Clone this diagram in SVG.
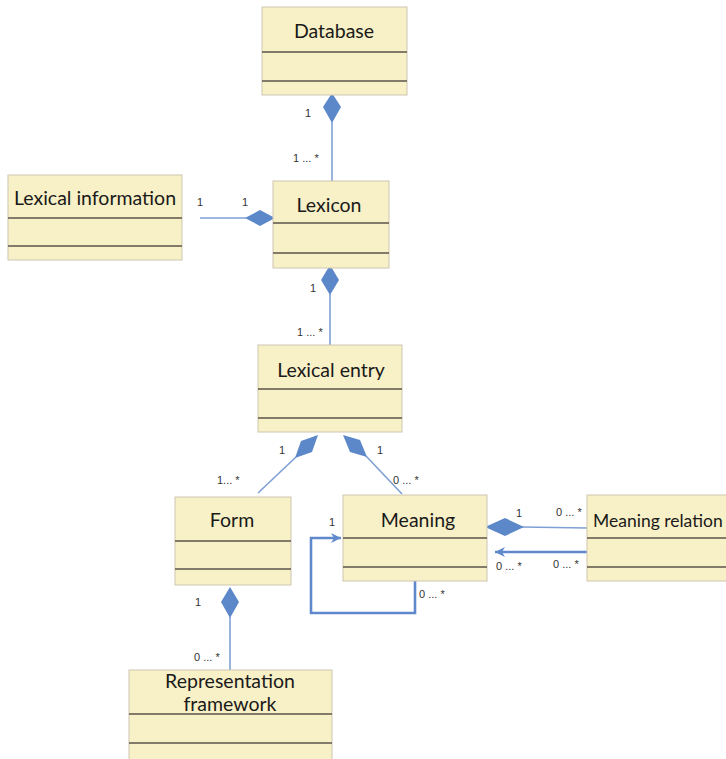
<svg xmlns="http://www.w3.org/2000/svg" width="726" height="759" viewBox="0 0 726 759">
  <style>
    .box { fill: #f8f0c6; stroke: #cdc6b2; stroke-width: 1; }
    .sep { stroke: #5c544a; stroke-width: 1.6; }
    .name { font-family: Lato, "Open Sans", sans-serif; font-size: 19.5px; fill: #1a1a1a; text-anchor: middle; }
    .mult { font-family: "Liberation Sans", sans-serif; font-size: 11px; fill: #333; }
    .link { stroke: #7ea0d4; stroke-width: 1.6; fill: none; }
    .nav { stroke: #5f89cc; stroke-width: 2.6; fill: none; }
    .dia { fill: #5c87c9; stroke: none; }
  </style>
  <defs>
    <marker id="open" markerWidth="12" markerHeight="12" refX="10" refY="6" orient="auto" markerUnits="userSpaceOnUse">
      <path d="M0,1 L10,6 L0,11 L3,6 Z" fill="#5f89cc"/>
    </marker>
  </defs>
  <rect width="726" height="759" fill="#ffffff"/>

  <!-- connectors -->
  <g id="connectors">
    <!-- Database <> Lexicon -->
    <line class="link" x1="332" y1="122" x2="332" y2="181"/>
    <path class="dia" d="M332,93 L341,107 L332,123 L323,107 Z"/>
    <!-- Lexicon <> Lexical information -->
    <line class="link" x1="200" y1="218" x2="246" y2="218"/>
    <path class="dia" d="M245,218 L260,210 L275,218 L260,226 Z"/>
    <!-- Lexicon <> Lexical entry -->
    <line class="link" x1="330" y1="294" x2="330" y2="345"/>
    <path class="dia" d="M330,265 L339,280 L330,295 L321,280 Z"/>
    <!-- Lexical entry <> Form -->
    <line class="link" x1="296" y1="457" x2="258" y2="493"/>
    <path class="dia" d="M318,435 L312,452 L295,458 L301,441 Z"/>
    <!-- Lexical entry <> Meaning -->
    <line class="link" x1="366" y1="456" x2="402" y2="494"/>
    <path class="dia" d="M343,435 L360,440 L367,457 L350,452 Z"/>
    <!-- Meaning <> Meaning relation -->
    <line class="link" x1="522" y1="527" x2="587" y2="528"/>
    <path class="dia" d="M485,527 L505,518 L524,527 L505,536 Z"/>
    <!-- Meaning relation -> Meaning -->
    <line class="nav" x1="587" y1="552" x2="495" y2="552" marker-end="url(#open)"/>
    <!-- Meaning self association -->
    <polyline class="nav" points="415,581 415,613 311,613 311,538 341,538" marker-end="url(#open)"/>
    <!-- Form <> Representation framework -->
    <line class="link" x1="230" y1="617" x2="230" y2="670"/>
    <path class="dia" d="M230,587 L239,602 L230,618 L221,602 Z"/>

    <!-- multiplicities -->
    <text class="mult" x="305" y="117">1</text>
    <text class="mult" x="293" y="162">1 ... *</text>
    <text class="mult" x="197" y="206">1</text>
    <text class="mult" x="242" y="206">1</text>
    <text class="mult" x="310" y="292">1</text>
    <text class="mult" x="297" y="336">1 ... *</text>
    <text class="mult" x="279" y="454">1</text>
    <text class="mult" x="217" y="484">1... *</text>
    <text class="mult" x="377" y="454">1</text>
    <text class="mult" x="393" y="484">0 ... *</text>
    <text class="mult" x="329" y="526">1</text>
    <text class="mult" x="516" y="517">1</text>
    <text class="mult" x="556" y="516">0 ... *</text>
    <text class="mult" x="496" y="570">0 ... *</text>
    <text class="mult" x="553" y="568">0 ... *</text>
    <text class="mult" x="419" y="598">0 ... *</text>
    <text class="mult" x="195" y="606">1</text>
    <text class="mult" x="194" y="661">0 ... *</text>
  </g>

  <g id="database">
    <rect class="box" x="262" y="7" width="145" height="88"/>
    <line class="sep" x1="262" y1="52" x2="407" y2="52"/>
    <line class="sep" x1="262" y1="81" x2="407" y2="81"/>
    <text class="name" x="334" y="38">Database</text>
  </g>

  <g id="lexical-information">
    <rect class="box" x="8" y="175" width="174" height="85"/>
    <line class="sep" x1="8" y1="218" x2="182" y2="218"/>
    <line class="sep" x1="8" y1="246" x2="182" y2="246"/>
    <text class="name" x="95" y="205">Lexical information</text>
  </g>

  <g id="lexicon">
    <rect class="box" x="273" y="181" width="116" height="87"/>
    <line class="sep" x1="273" y1="223" x2="389" y2="223"/>
    <line class="sep" x1="273" y1="253" x2="389" y2="253"/>
    <text class="name" x="329" y="212">Lexicon</text>
  </g>

  <g id="lexical-entry">
    <rect class="box" x="258" y="345" width="144" height="87"/>
    <line class="sep" x1="258" y1="389" x2="402" y2="389"/>
    <line class="sep" x1="258" y1="418" x2="402" y2="418"/>
    <text class="name" x="331" y="377">Lexical entry</text>
  </g>

  <g id="form">
    <rect class="box" x="175" y="497" width="116" height="88"/>
    <line class="sep" x1="175" y1="541" x2="291" y2="541"/>
    <line class="sep" x1="175" y1="569" x2="291" y2="569"/>
    <text class="name" x="232" y="527">Form</text>
  </g>

  <g id="meaning">
    <rect class="box" x="343" y="495" width="144" height="86"/>
    <line class="sep" x1="343" y1="538" x2="487" y2="538"/>
    <line class="sep" x1="343" y1="567" x2="487" y2="567"/>
    <text class="name" x="418" y="527">Meaning</text>
  </g>

  <g id="meaning-relation">
    <rect class="box" x="587" y="495" width="150" height="86"/>
    <line class="sep" x1="587" y1="538" x2="737" y2="538"/>
    <line class="sep" x1="587" y1="567" x2="737" y2="567"/>
    <text class="name" x="593" y="527" style="text-anchor:start; font-size:17.5px">Meaning relation</text>
  </g>

  <g id="representation-framework">
    <rect class="box" x="129" y="670" width="203" height="95"/>
    <line class="sep" x1="129" y1="714" x2="332" y2="714"/>
    <line class="sep" x1="129" y1="743" x2="332" y2="743"/>
    <text class="name" x="230" y="688">Representation</text>
    <text class="name" x="230" y="711">framework</text>
  </g>
</svg>
